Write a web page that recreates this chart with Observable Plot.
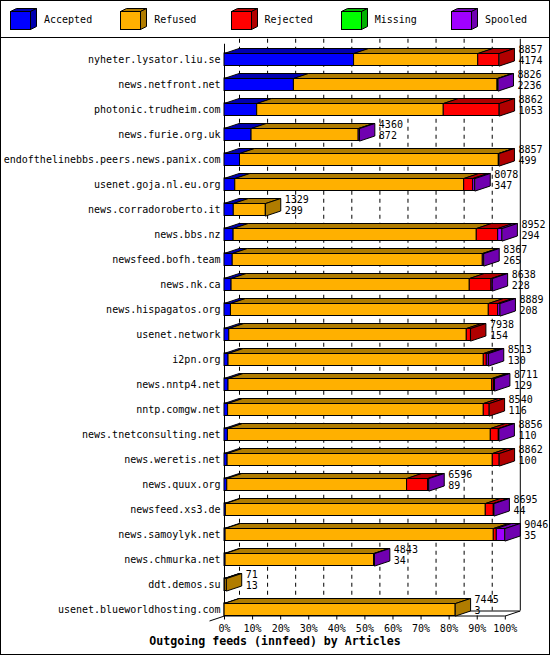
<!DOCTYPE html>
<html><head><meta charset="utf-8">
<script src="https://cdn.jsdelivr.net/npm/d3@7"></script>
<script src="https://cdn.jsdelivr.net/npm/@observablehq/plot@0.6"></script>
<style>
html,body{margin:0;padding:0;background:#fff;}
#wrap{position:relative;width:550px;height:655px;box-sizing:border-box;border:1px solid #000;background:#fff;overflow:hidden;font-family:"DejaVu Sans Mono",monospace;}
#legend{position:relative;height:36px;border-bottom:1px solid #000;}
.item{position:absolute;top:7px;height:23px;display:flex;align-items:center;font-size:10px;color:#000;white-space:nowrap;}
.item svg{display:block;margin-right:7px;}
#caption{height:21px;line-height:16px;text-align:center;font-weight:bold;font-size:11.6px;color:#000;}
</style></head><body>
<div id="wrap"><div id="legend"></div><div id="chart"></div><div id="caption"></div></div>
<script>
// ---- data ----
const hosts = ["nyheter.lysator.liu.se","news.netfront.net","photonic.trudheim.com","news.furie.org.uk",
  "endofthelinebbs.peers.news.panix.com","usenet.goja.nl.eu.org","news.corradoroberto.it","news.bbs.nz",
  "newsfeed.bofh.team","news.nk.ca","news.hispagatos.org","usenet.network","i2pn.org","news.nntp4.net",
  "nntp.comgw.net","news.tnetconsulting.net","news.weretis.net","news.quux.org","newsfeed.xs3.de",
  "news.samoylyk.net","news.chmurka.net","ddt.demos.su","usenet.blueworldhosting.com"];
const offered  = [8857,8826,8862,4360,8857,8078,1329,8952,8367,8638,8889,7938,8513,8711,8540,8856,8862,6596,8695,9046,4843,71,7445];
const accepted = [4174,2236,1053,872,499,347,299,294,265,228,208,154,130,129,116,110,100,89,44,35,34,13,3];
const refused  = [4000,6560,6010,3450,8338,7374,1030,7833,8056,7673,8306,7651,8223,8495,8237,8469,8543,5793,8373,8640,4784,58,7442];
const rejected = [683,0,1799,0,20,290,0,690,0,700,303,133,97,55,187,258,219,678,258,97,0,0,0];
const missing  = [0,0,0,0,0,0,0,0,0,0,0,0,0,0,0,0,0,0,0,0,0,0,0];
const spooled  = [0,30,0,38,0,67,0,135,46,37,72,0,63,32,0,19,0,36,20,274,25,0,0];
const seriesNames = ["Accepted","Refused","Rejected","Missing","Spooled"];
const frontColors = ["#0000ff","#ffb000","#ff0000","#00ff00","#a000ff"];
const shadeColors = ["#0000b0","#b07c00","#b00000","#00b000","#7000b0"];
const tickValues = [0,10,20,30,40,50,60,70,80,90,100];
const tickLabels = ["0%","10%","20%","30%","40%","50%","60%","70%","80%","90%","100%"];
const xTitle = "Outgoing feeds (innfeed) by Articles";

// ---- legend ----
const legend = d3.select("#legend");
seriesNames.forEach((name, s) => {
  const it = legend.append("div").attr("class","item").style("left", (9 + s*110.25) + "px");
  const sv = it.append("svg").attr("width",27).attr("height",23);
  sv.append("polygon").attr("points","0.5,3.5 20.5,3.5 26.5,0.5 6.5,0.5").attr("fill",shadeColors[s]).attr("stroke","#000");
  sv.append("polygon").attr("points","20.5,3.5 26.5,0.5 26.5,18.5 20.5,21.5").attr("fill",shadeColors[s]).attr("stroke","#000");
  sv.append("rect").attr("x",0.5).attr("y",3.5).attr("width",20).attr("height",18).attr("fill",frontColors[s]).attr("stroke","#000");
  it.append("span").text(name);
});
document.getElementById("caption").textContent = xTitle;

// ---- geometry ----
const n = hosts.length;
const series = [accepted, refused, rejected, missing, spooled];
const maxOffered = d3.max(offered);
const pct = v => v / maxOffered * 100;
const W = 548, H = 595, mL = 223, mR = 44.2, mT = 0.75, mB = 17.5;
const half = 0.25;
const yTop = -0.82, yBase = (n - 1) + half;
const pxX = (W - mL - mR) / 100;
const pxY = (H - mT - mB) / (yBase - yTop);
const DX = 15 / pxX, DY = 5 / pxY;

const segs = [], tops = [], sides = [];
hosts.forEach((h, r) => {
  let cum = 0, last = null;
  series.forEach((vals, s) => {
    const v = vals[r];
    if (!(v > 0)) return;
    const x1 = pct(cum), x2 = pct(cum + v);
    cum += v;
    const seg = {r, s, x1, x2, id: r + "-" + s};
    segs.push(seg); last = seg;
    const yt = r - half;
    [[x1,yt],[x2,yt],[x2+DX,yt-DY],[x1+DX,yt-DY]].forEach(([x,y]) => tops.push({id: seg.id, x, y, fill: shadeColors[s]}));
  });
  if (last) {
    const yt = r - half, yb = r + half, x2 = last.x2;
    [[x2,yt],[x2+DX,yt-DY],[x2+DX,yb-DY],[x2,yb]].forEach(([x,y]) => sides.push({id: last.id, x, y, fill: shadeColors[last.s]}));
  }
});

const rows = d3.range(n);
const chart = Plot.plot({
  width: W, height: H,
  marginLeft: mL, marginRight: mR, marginTop: mT, marginBottom: mB,
  x: {domain: [0, 100], axis: null},
  y: {domain: [yTop, yBase], reverse: true, axis: null},
  color: {type: "identity"},
  style: {fontFamily: "DejaVu Sans Mono", fontSize: "10px", background: "white", color: "black", overflow: "visible"},
  marks: [
    Plot.ruleX(tickValues.slice(0, -1), {x: d => d + DX, y1: yTop, y2: yBase - DY, stroke: "#000", strokeDasharray: "4,4"}),
    Plot.ruleX([100], {x: d => d + DX, y1: yTop, y2: yBase - DY, stroke: "#000"}),
    Plot.ruleY([yBase - DY], {x1: DX, x2: 100 + DX, stroke: "#000"}),
    Plot.ruleY([yBase], {x1: 0, x2: 100, stroke: "#000"}),
    Plot.link([0], {x1: 0, y1: yBase, x2: -DX, y2: yBase + DY, stroke: "#000"}),
    Plot.link([100], {x1: 100, y1: yBase, x2: 100 + DX, y2: yBase - DY, stroke: "#000"}),
    Plot.ruleX([0], {y1: yTop + DY, y2: yBase, stroke: "#000"}),
    Plot.rect(segs, {x1: "x1", x2: "x2", y1: d => d.r - half, y2: d => d.r + half, fill: d => frontColors[d.s], stroke: "#000", strokeWidth: 1}),
    Plot.line(tops, {x: "x", y: "y", z: "id", fill: "fill", stroke: "#000", strokeWidth: 1, curve: "linear-closed", strokeLinejoin: "miter"}),
    Plot.line(sides, {x: "x", y: "y", z: "id", fill: "fill", stroke: "#000", strokeWidth: 1, curve: "linear-closed", strokeLinejoin: "miter"}),
    Plot.axisX(tickValues, {tickFormat: d => tickLabels[tickValues.indexOf(d)], tickSize: 4, tickPadding: 4.5, label: null}),
    Plot.axisY(rows, {tickFormat: i => hosts[i], tickSize: 0, tickPadding: 4, label: null}),
    Plot.text(rows, {x: i => pct(offered[i]) + DX, y: i => i, text: i => String(offered[i]), dx: 4, dy: -9.5, textAnchor: "start", lineAnchor: "middle", fill: "#000"}),
    Plot.text(rows, {x: i => pct(offered[i]) + DX, y: i => i, text: i => String(accepted[i]), dx: 4, dy: 1.5, textAnchor: "start", lineAnchor: "middle", fill: "#000"})
  ]
});
document.getElementById("chart").appendChild(chart);
</script>
</body></html>
